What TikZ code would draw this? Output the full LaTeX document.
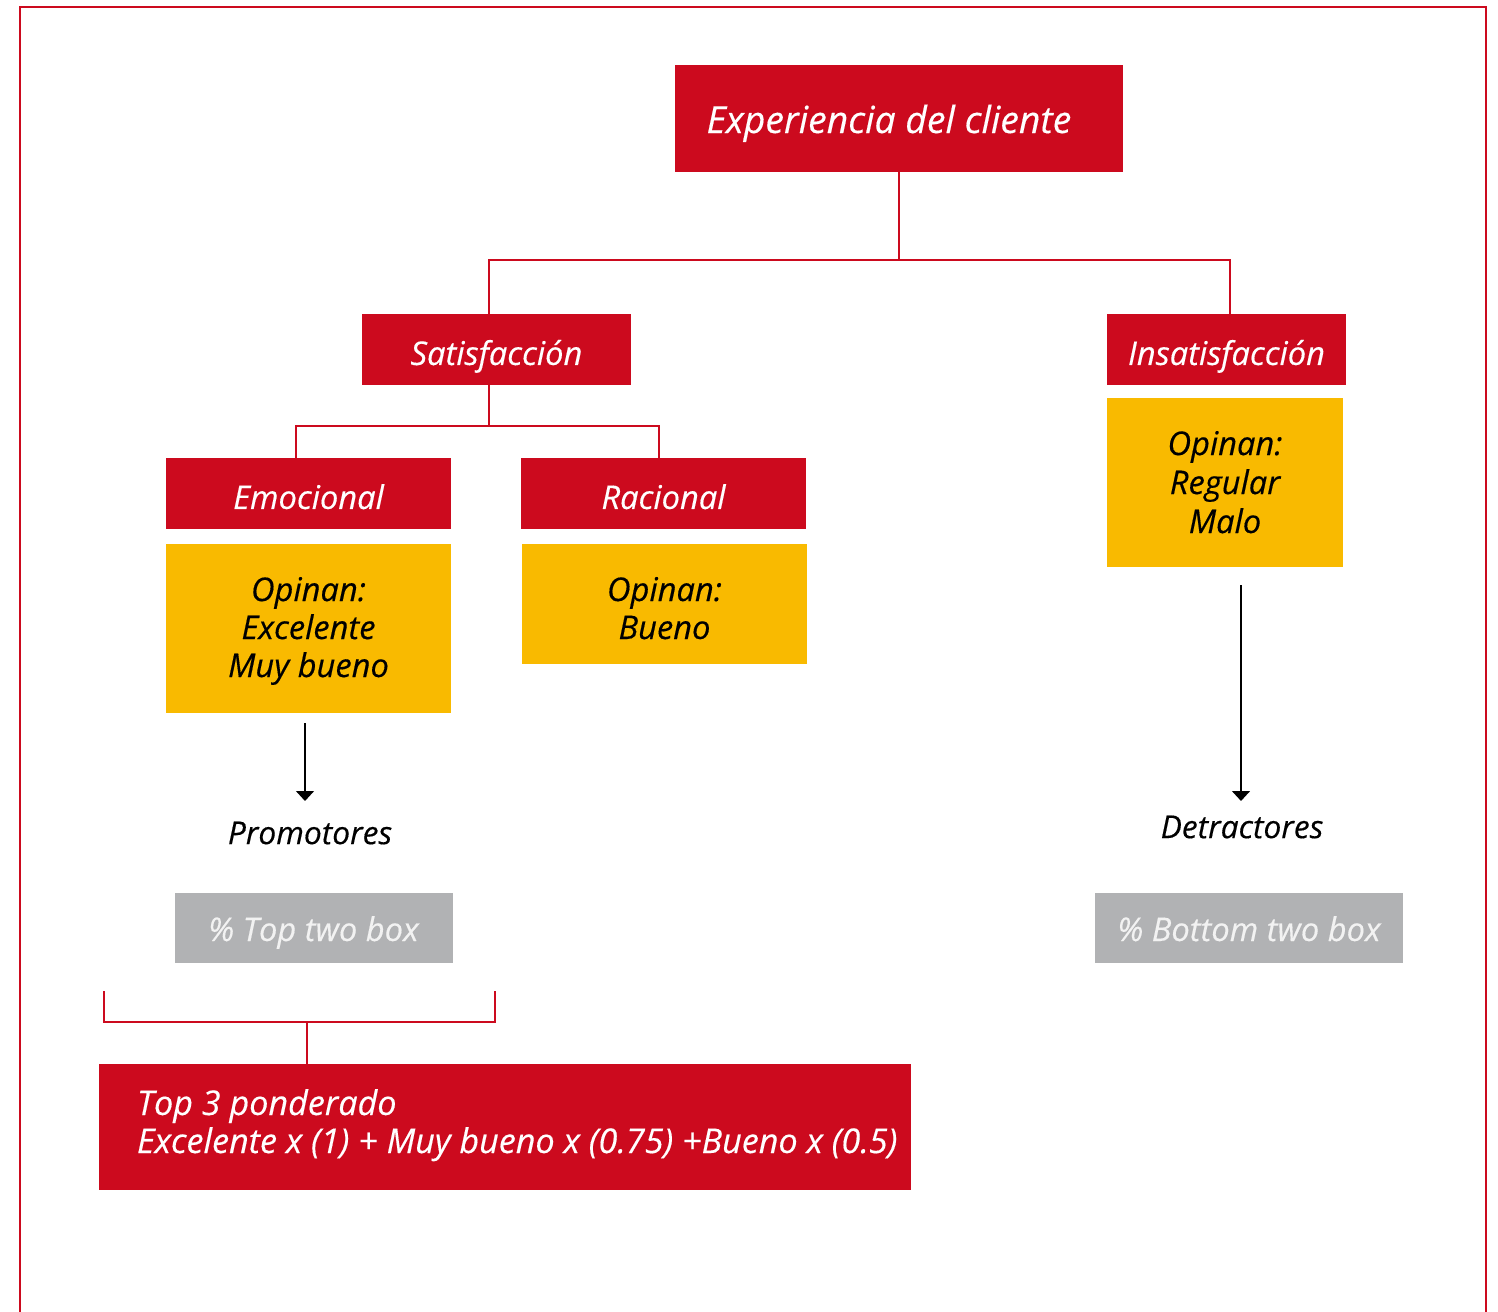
\documentclass[tikz,border=0pt]{standalone}
\usepackage{fontspec}
\setmainfont{Open Sans}[ItalicFeatures={FakeBold=0.35}]
\usetikzlibrary{arrows.meta,calc}
\definecolor{brandred}{HTML}{CC0A1E}
\definecolor{brandyellow}{HTML}{F9BA00}
\definecolor{brandgray}{HTML}{B1B2B4}
\definecolor{graytext}{HTML}{F2F2F2}
% place a label's baseline at a given offset from the node centre
\newcommand{\baselineat}[2]{\raisebox{#1}[0pt][0pt]{#2}}
\newcommand{\stack}[1]{\begin{tabular}[t]{@{}c@{}}#1\end{tabular}}
\begin{document}
\begin{tikzpicture}[x=0.75pt,y=-0.75pt,
  redbox/.style={fill=brandred,text=white,inner sep=0pt,font=\itshape\fontsize{24.5}{29}\selectfont},
  yellowbox/.style={fill=brandyellow,text=black,inner sep=0pt,font=\itshape\fontsize{24.5}{28.5}\selectfont},
  graybox/.style={fill=brandgray,text=graytext,inner sep=0pt,font=\itshape\fontsize{24.5}{29}\selectfont},
  plainlabel/.style={text=black,inner sep=0pt,font=\itshape\fontsize{23.8}{28}\selectfont},
  conn/.style={draw=brandred,line width=1.5pt},
  flow/.style={draw=black,line width=1.1pt,-{Triangle[width=13.5pt,length=7.5pt]}},
  frame/.style={draw=brandred,line width=2pt}]
\useasboundingbox (0,0) rectangle (1498,1312);
% outer frame, open at the bottom
\draw[frame] (20,1330) -- (20,7) -- (1486,7) -- (1486,1330);

% main tree
\node[redbox,minimum width=448*0.75pt,minimum height=107*0.75pt,font=\itshape\fontsize{28}{33}\selectfont] (exp) at (899,118.5) {\hspace*{-15pt}\baselineat{-10.9pt}{Experiencia del cliente}};
\node[redbox,minimum width=269*0.75pt,minimum height=71*0.75pt] (sat) at (496.5,349.5) {\baselineat{-11.6pt}{Satisfacción}};
\node[redbox,minimum width=239*0.75pt,minimum height=71*0.75pt] (insat) at (1226.5,349.5) {\baselineat{-11.6pt}{Insatisfacción}};
\node[redbox,minimum width=285*0.75pt,minimum height=71*0.75pt] (emo) at (308.5,493.5) {\baselineat{-11.6pt}{Emocional}};
\node[redbox,minimum width=285*0.75pt,minimum height=71*0.75pt] (rac) at (663.5,493.5) {\baselineat{-11.6pt}{Racional}};

% opinion boxes
\node[yellowbox,minimum width=285*0.75pt,minimum height=169*0.75pt] (emoop) at (308.5,628.5) {\baselineat{20.6pt}{\stack{Opinan:\\Excelente\\Muy bueno}}};
\node[yellowbox,minimum width=285*0.75pt,minimum height=120*0.75pt] (racop) at (664.5,604) {\baselineat{2.25pt}{\stack{Opinan:\\Bueno}}};
\node[yellowbox,minimum width=236*0.75pt,minimum height=169*0.75pt,font=\itshape\fontsize{24.5}{29.25}\selectfont] (insop) at (1225,482.5) {\baselineat{20.6pt}{\stack{Opinan:\\Regular\\Malo}}};

% connectors of the tree
\coordinate (j1) at (899,260);
\coordinate (j2) at (489,426);
\draw[conn] (exp.south) -- (j1);
\draw[conn] ($(sat.north)+(-7.5,0)$) |- (j1) -| ($(insat.north)+(3.5,0)$);
\draw[conn] ($(sat.south)+(-7.5,0)$) -- (j2);
\draw[conn] ($(emo.north)+(-12.5,0)$) |- (j2) -| ($(rac.north)+(-4.5,0)$);

% outcomes
\coordinate (a1) at (305,723);
\coordinate (t1) at (305,801);
\coordinate (a2) at (1241,585);
\coordinate (t2) at (1241,801);
\node[plainlabel] (prom) at (310,833) {Promotores};
\node[plainlabel] (detr) at (1242,827) {Detractores};
\draw[flow] (a1) -- (t1);
\draw[flow] (a2) -- (t2);

\node[graybox,minimum width=278*0.75pt,minimum height=70*0.75pt] (top2) at (313.5,928) {\baselineat{-9.75pt}{\% Top two box}};
\node[graybox,minimum width=308*0.75pt,minimum height=70*0.75pt] (bot2) at (1249,928) {\baselineat{-9.75pt}{\% Bottom two box}};

% weighted index
\node[redbox,minimum width=812*0.75pt,minimum height=126*0.75pt,font=\itshape\fontsize{25.6}{28.5}\selectfont] (top3) at (505,1127)
  {\makebox[552pt][l]{\baselineat{9pt}{\begin{tabular}[t]{@{}l@{}}Top 3 ponderado\\Excelente x (1) + Muy bueno x (0.75) +Bueno x (0.5)\end{tabular}}}};
\coordinate (b1) at (104,991);
\coordinate (b2) at (495,991);
\coordinate (bj) at (307,1022);
\draw[conn] (b1) |- (bj) -| (b2);
\draw[conn] (bj) -- (bj |- top3.north);
\end{tikzpicture}
\end{document}
